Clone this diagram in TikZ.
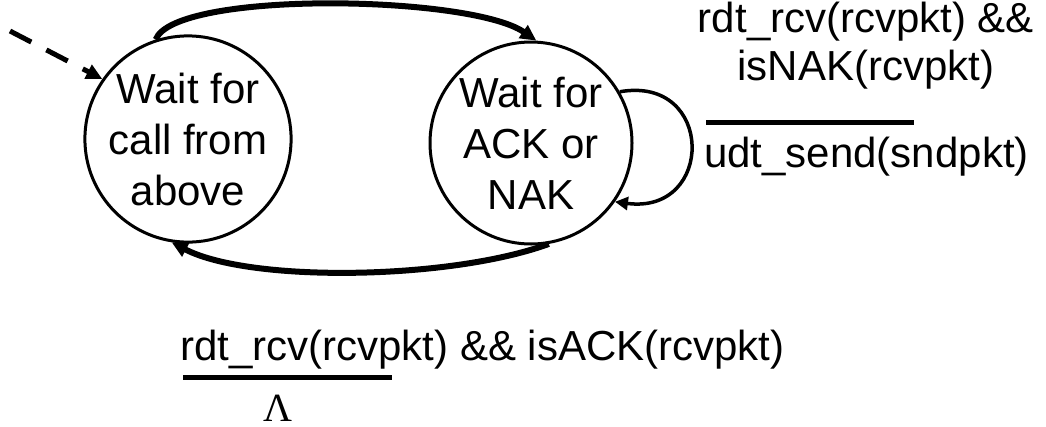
\documentclass[tikz,border=0pt]{standalone}
\usepackage{fontspec}
\setmainfont{Liberation Sans}
\newfontfamily\lambdafont{Liberation Serif}
\usetikzlibrary{arrows.meta}
\begin{document}
\begin{tikzpicture}[x=1pt,y=-1pt,
    state/.style={circle,draw,line width=3pt,minimum size=202pt,inner sep=0pt,
      align=center,font=\fontsize{42}{51}\selectfont},
    lbl/.style={inner sep=0pt,font=\fontsize{42}{48}\selectfont},
    trans/.style={line width=6pt,-{Triangle[length=16pt,width=15pt]}},
    selfedge/.style={line width=3.5pt,-{Triangle[length=13pt,width=13pt]}},
    initedge/.style={line width=5pt,dash pattern=on 24pt off 17pt,
      -{Triangle[length=16pt,width=15pt]}},
    bar/.style={line width=5pt}]
      \useasboundingbox (0,0) rectangle (1046,426);
      \draw
        (188,139) node[state] (wait1) {Wait for\\call from\\above}
        (531,143) node[state] (wait2) {Wait for\\ACK or\\NAK};
      \coordinate (init) at (10,31);
      \node[lbl,anchor=base,align=center] (nakcond) at (866,80) {rdt\_rcv(rcvpkt) \&\&\\isNAK(rcvpkt)};
      \node[lbl,anchor=base west] (nakact) at (704,167) {udt\_send(sndpkt)};
      \node[lbl,anchor=base west] (ackcond) at (180,360) {rdt\_rcv(rcvpkt) \&\& isACK(rcvpkt)};
      \node[inner sep=0pt,anchor=base,font=\lambdafont\fontsize{40}{48}\selectfont] (ackact) at (278,421) {Λ};
      \draw[bar] (706,122) -- (914,122);
      \draw[bar] (183,377) -- (392,377);
      \begin{scope}[trans]
        \draw (wait1.108) .. controls (175,-10) and (470,-5) .. (wait2.87);
        \draw (wait2.-80) .. controls (450,280) and (250,283) .. (wait1.-99);
      \end{scope}
      \draw[selfedge] (wait2.30) .. controls (715,75) and (715,215) .. (wait2.-35);
      \draw[initedge] (init) -- (wait1.145);
    \end{tikzpicture}
\end{document}
